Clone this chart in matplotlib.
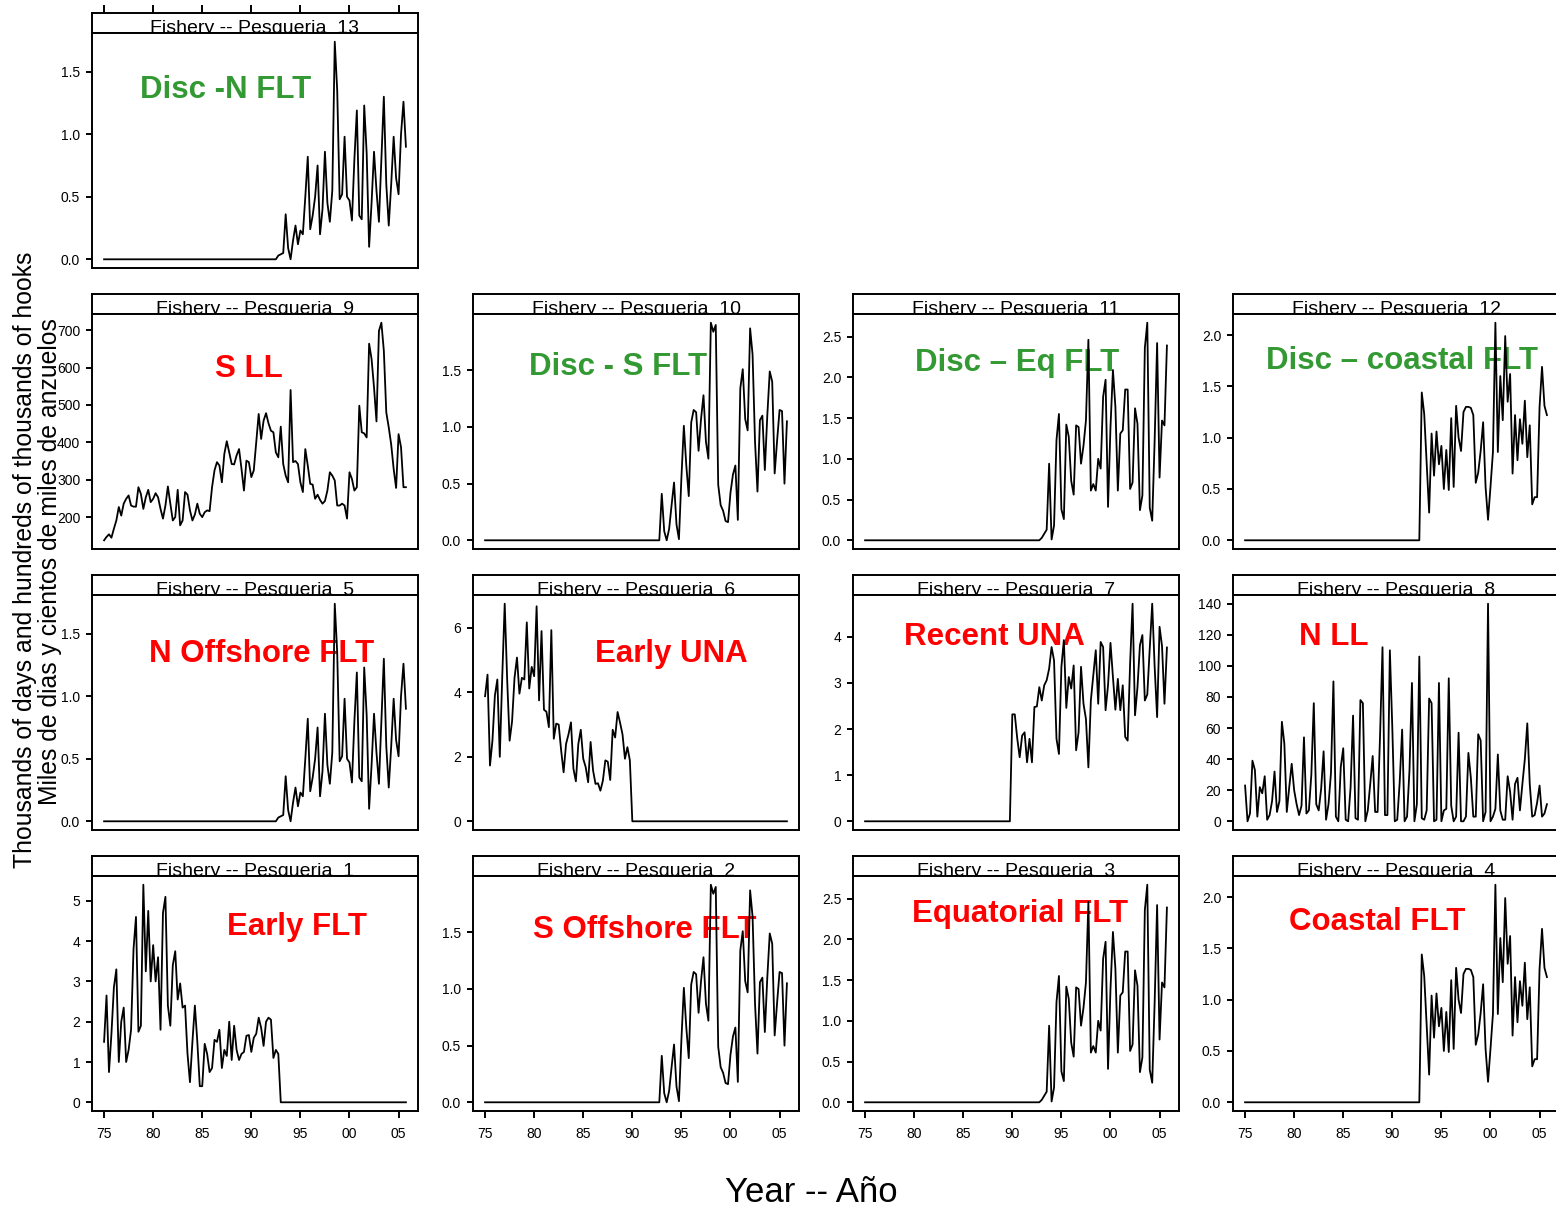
import numpy as np
import matplotlib.pyplot as plt

plt.rcParams['font.family'] = ['Liberation Sans', 'DejaVu Sans']

# quarterly steps, 1975 Q1 .. 2005 Q4
years = 1975 + np.arange(124) / 4.0
year_ticks = [1975, 1980, 1985, 1990, 1995, 2000, 2005]
year_labels = ['75', '80', '85', '90', '95', '00', '05']

early_flt = [
    1.50, 2.65, 0.75, 1.70, 2.85, 3.30, 1.00, 2.00,
    2.35, 1.00, 1.30, 1.80, 3.80, 4.60, 1.75, 1.90,
    5.40, 3.25, 4.75, 3.00, 3.90, 3.00, 3.60, 1.80,
    4.70, 5.10, 2.40, 1.90, 3.40, 3.75, 2.55, 2.95,
    2.35, 2.40, 1.20, 0.50, 1.50, 2.40, 1.50, 0.40,
    0.40, 1.45, 1.20, 0.75, 0.85, 1.55, 1.50, 1.80,
    0.85, 1.30, 1.15, 2.00, 1.05, 1.90, 1.30, 1.05,
    1.20, 1.25, 1.65, 1.67, 1.25, 1.60, 1.70, 2.10,
    1.85, 1.40, 2.00, 2.10, 2.05, 1.10, 1.30, 1.20,
    0, 0, 0, 0, 0, 0, 0, 0, 0, 0, 0, 0, 0, 0, 0, 0,
    0, 0, 0, 0, 0, 0, 0, 0, 0, 0, 0, 0, 0, 0, 0, 0,
    0, 0, 0, 0, 0, 0, 0, 0, 0, 0, 0, 0, 0, 0, 0, 0,
    0, 0, 0, 0,
]

s_offshore = [
    0, 0, 0, 0, 0, 0, 0, 0, 0, 0, 0, 0, 0, 0, 0, 0, 0, 0,
    0, 0, 0, 0, 0, 0, 0, 0, 0, 0, 0, 0, 0, 0, 0, 0, 0, 0,
    0, 0, 0, 0, 0, 0, 0, 0, 0, 0, 0, 0, 0, 0, 0, 0, 0, 0,
    0, 0, 0, 0, 0, 0, 0, 0, 0, 0, 0, 0, 0, 0, 0, 0, 0, 0,
    0.41, 0.08, 0.00, 0.10,
    0.31, 0.51, 0.14, 0.01,
    0.55, 1.01, 0.66, 0.39,
    1.04, 1.15, 1.13, 0.79,
    1.07, 1.28, 0.87, 0.72,
    1.92, 1.84, 1.90, 0.49,
    0.31, 0.26, 0.17, 0.16,
    0.42, 0.58, 0.66, 0.18,
    1.34, 1.51, 1.07, 0.97,
    1.87, 1.64, 0.87, 0.43,
    1.06, 1.10, 0.62, 1.10,
    1.49, 1.40, 0.59, 0.88,
    1.15, 1.14, 0.50, 1.05,
]

equatorial = [
    0, 0, 0, 0, 0, 0, 0, 0, 0, 0, 0, 0, 0, 0, 0, 0, 0, 0,
    0, 0, 0, 0, 0, 0, 0, 0, 0, 0, 0, 0, 0, 0, 0, 0, 0, 0,
    0, 0, 0, 0, 0, 0, 0, 0, 0, 0, 0, 0, 0, 0, 0, 0, 0, 0,
    0, 0, 0, 0, 0, 0, 0, 0, 0, 0, 0, 0, 0, 0, 0, 0, 0, 0,
    0.03, 0.08, 0.13, 0.94,
    0.01, 0.18, 1.23, 1.55,
    0.38, 0.26, 1.42, 1.27,
    0.73, 0.56, 1.41, 1.39,
    0.94, 1.16, 1.47, 2.46,
    0.61, 0.69, 0.61, 1.00,
    0.88, 1.76, 1.97, 0.41,
    1.39, 2.09, 1.64, 0.61,
    1.31, 1.35, 1.85, 1.85,
    0.63, 0.71, 1.62, 1.43,
    0.37, 0.55, 2.36, 2.67,
    0.40, 0.24, 1.23, 2.42,
    0.77, 1.47, 1.41, 2.39,
]

coastal = [
    0, 0, 0, 0, 0, 0, 0, 0, 0, 0, 0, 0, 0, 0, 0, 0, 0, 0,
    0, 0, 0, 0, 0, 0, 0, 0, 0, 0, 0, 0, 0, 0, 0, 0, 0, 0,
    0, 0, 0, 0, 0, 0, 0, 0, 0, 0, 0, 0, 0, 0, 0, 0, 0, 0,
    0, 0, 0, 0, 0, 0, 0, 0, 0, 0, 0, 0, 0, 0, 0, 0, 0, 0,
    1.44, 1.23, 0.75, 0.27,
    1.04, 0.63, 1.06, 0.74,
    0.92, 0.50, 0.88, 0.49,
    1.19, 0.52, 1.31, 1.00,
    0.87, 1.25, 1.30, 1.30,
    1.29, 1.22, 0.56, 0.66,
    0.87, 1.15, 0.52, 0.20,
    0.52, 0.86, 2.12, 0.86,
    1.60, 1.17, 1.99, 1.35,
    1.62, 0.65, 1.22, 0.78,
    1.18, 0.94, 1.36, 0.81,
    1.12, 0.35, 0.42, 0.42,
    1.30, 1.69, 1.31, 1.22,
]

n_offshore = [
    0, 0, 0, 0, 0, 0, 0, 0, 0, 0, 0, 0, 0, 0, 0, 0, 0, 0,
    0, 0, 0, 0, 0, 0, 0, 0, 0, 0, 0, 0, 0, 0, 0, 0, 0, 0,
    0, 0, 0, 0, 0, 0, 0, 0, 0, 0, 0, 0, 0, 0, 0, 0, 0, 0,
    0, 0, 0, 0, 0, 0, 0, 0, 0, 0, 0, 0, 0, 0, 0, 0, 0, 0.03,
    0.04, 0.05, 0.36, 0.09,
    0.00, 0.15, 0.27, 0.12,
    0.23, 0.20, 0.50, 0.82,
    0.24, 0.35, 0.50, 0.75,
    0.20, 0.40, 0.86, 0.45,
    0.30, 0.55, 1.74, 1.35,
    0.48, 0.52, 0.98, 0.50,
    0.47, 0.31, 0.80, 1.19,
    0.35, 0.32, 1.23, 0.85,
    0.10, 0.45, 0.86, 0.55,
    0.30, 0.80, 1.30, 0.60,
    0.27, 0.60, 0.98, 0.65,
    0.52, 1.00, 1.26, 0.90,
]

early_una = [
    3.88, 4.55, 1.73, 2.50, 3.90, 4.40, 2.00, 4.50,
    6.75, 4.40, 2.50, 3.10, 4.45, 5.08, 3.96, 4.45,
    4.40, 6.17, 4.12, 4.79, 4.50, 6.67, 3.75, 5.90,
    3.46, 3.40, 2.92, 5.93, 2.56, 3.03, 3.00, 2.20,
    1.52, 2.40, 2.70, 3.07, 1.63, 1.24, 2.40, 2.84,
    1.94, 1.68, 1.21, 2.46, 1.58, 1.16, 1.18, 0.95,
    1.26, 1.89, 1.85, 1.28, 2.84, 2.60, 3.39, 3.06,
    2.70, 1.94, 2.30, 1.89,
    0, 0, 0, 0, 0, 0, 0, 0, 0, 0, 0, 0, 0, 0, 0, 0,
    0, 0, 0, 0, 0, 0, 0, 0, 0, 0, 0, 0, 0, 0, 0, 0,
    0, 0, 0, 0, 0, 0, 0, 0, 0, 0, 0, 0, 0, 0, 0, 0,
    0, 0, 0, 0, 0, 0, 0, 0, 0, 0, 0, 0, 0, 0, 0, 0,
]

recent_una = [
    0, 0, 0, 0, 0, 0, 0, 0, 0, 0, 0, 0, 0, 0, 0, 0, 0, 0, 0, 0,
    0, 0, 0, 0, 0, 0, 0, 0, 0, 0, 0, 0, 0, 0, 0, 0, 0, 0, 0, 0,
    0, 0, 0, 0, 0, 0, 0, 0, 0, 0, 0, 0, 0, 0, 0, 0, 0, 0, 0, 0,
    2.32, 2.32, 1.80, 1.39,
    1.86, 1.93, 1.28, 1.79,
    1.28, 2.48, 2.49, 2.91,
    2.62, 2.95, 3.06, 3.31,
    3.78, 3.49, 1.79, 1.46,
    3.35, 3.93, 2.46, 3.13,
    2.88, 3.38, 1.54, 1.93,
    3.35, 2.55, 2.22, 1.17,
    2.62, 3.17, 3.71, 2.55,
    3.89, 3.78, 2.41, 2.95,
    3.87, 3.13, 2.42, 3.09,
    2.41, 2.95, 1.83, 1.75,
    3.42, 4.72, 2.30, 2.91,
    3.82, 4.04, 2.62, 2.75,
    3.75, 4.72, 3.35, 2.26,
    4.22, 3.80, 2.55, 3.77,
]

n_ll = [
    23, 0, 5, 39, 33, 3, 22, 18,
    29, 1, 4, 13, 32, 6, 13, 64,
    50, 6, 22, 37, 20, 11, 4, 10,
    54, 5, 7, 30, 76, 11, 7, 21,
    45, 1, 11, 31, 90, 3, 0, 35,
    47, 1, 0, 22, 68, 2, 1, 78,
    76, 0, 7, 24, 42, 6, 6, 55,
    112, 4, 4, 110, 60, 0, 1, 25,
    59, 0, 3, 33, 89, 0, 11, 106,
    2, 1, 7, 79, 76, 0, 1, 89,
    0, 7, 8, 92, 10, 0, 3, 57,
    0, 0, 3, 44, 28, 3, 3, 56,
    52, 0, 6, 140, 0, 3, 8, 43,
    7, 1, 1, 29, 19, 1, 24, 28,
    7, 24, 40, 63, 24, 3, 4, 12,
    23, 3, 5, 11,
]

s_ll = [
    138, 147, 154, 145, 169, 191, 227, 204,
    236, 249, 258, 231, 228, 228, 280, 262,
    222, 253, 273, 240, 249, 264, 253, 222,
    196, 231, 282, 236, 191, 200, 273, 178,
    191, 267, 260, 218, 191, 207, 236, 209,
    200, 213, 218, 216, 280, 325, 347, 338,
    293, 369, 403, 373, 342, 341, 365, 382,
    329, 271, 351, 347, 307, 325, 400, 476,
    409, 458, 478, 451, 431, 427, 373, 360,
    442, 342, 311, 293, 540, 347, 350, 342,
    293, 267, 382, 338, 289, 287, 249, 260,
    246, 236, 243, 271, 320, 311, 298, 231,
    231, 236, 231, 196, 320, 302, 271, 280,
    498, 427, 424, 413, 664, 623, 547, 456,
    698, 720, 645, 480, 440, 394, 329, 278,
    422, 387, 280, 280,
]

GREEN = '#339933'
RED = '#ff0000'

# row, col, fishery number, series, name, colour, name position, y ticks, tick format
panels = [
    (0, 0, 13, n_offshore, 'Disc -N FLT', GREEN, (0.411, 0.757), [0, 0.5, 1.0, 1.5], '{:.1f}'),
    (1, 0, 9, s_ll, 'S LL', RED, (0.482, 0.766), [200, 300, 400, 500, 600, 700], '{:.0f}'),
    (1, 1, 10, s_offshore, 'Disc - S FLT', GREEN, (0.445, 0.774), [0, 0.5, 1.0, 1.5], '{:.1f}'),
    (1, 2, 11, equatorial, 'Disc \u2013 Eq FLT', GREEN, (0.503, 0.791), [0, 0.5, 1.0, 1.5, 2.0, 2.5], '{:.1f}'),
    (1, 3, 12, coastal, 'Disc \u2013 coastal FLT', GREEN, (0.518, 0.800), [0, 0.5, 1.0, 1.5, 2.0], '{:.1f}'),
    (2, 0, 5, n_offshore, 'N Offshore FLT', RED, (0.520, 0.749), [0, 0.5, 1.0, 1.5], '{:.1f}'),
    (2, 1, 6, early_una, 'Early UNA', RED, (0.610, 0.749), [0, 2, 4, 6], '{:.0f}'),
    (2, 2, 7, recent_una, 'Recent UNA', RED, (0.433, 0.821), [0, 1, 2, 3, 4], '{:.0f}'),
    (2, 3, 8, n_ll, 'N LL', RED, (0.310, 0.821), [0, 20, 40, 60, 80, 100, 120, 140], '{:.0f}'),
    (3, 0, 1, early_flt, 'Early FLT', RED, (0.629, 0.783), [0, 1, 2, 3, 4, 5], '{:.0f}'),
    (3, 1, 2, s_offshore, 'S Offshore FLT', RED, (0.528, 0.770), [0, 0.5, 1.0, 1.5], '{:.1f}'),
    (3, 2, 3, equatorial, 'Equatorial FLT', RED, (0.512, 0.838), [0, 0.5, 1.0, 1.5, 2.0, 2.5], '{:.1f}'),
    (3, 3, 4, coastal, 'Coastal FLT', RED, (0.442, 0.804), [0, 0.5, 1.0, 1.5, 2.0], '{:.1f}'),
]

W, H = 1556, 1209
col_left = [92, 473, 853, 1233]
row_top = [13, 294, 575, 856]
panel_w, panel_h, strip_h = 326, 235, 20
border = 1.4


def box(x0, y0, w, h):
    # pixel box (top-left origin) -> figure fraction rect
    return [x0 / W, 1 - (y0 + h) / H, w / W, h / H]


fig = plt.figure(figsize=(W / 100, H / 100), dpi=100)

xlim = (years[0] - 0.04 * (years[-1] - years[0]), years[-1] + 0.04 * (years[-1] - years[0]))

for row, col, num, series, name, color, pos, yt, fmt in panels:
    x0, top = col_left[col], row_top[row]

    sax = fig.add_axes(box(x0, top, panel_w, strip_h))
    sax.set_xlim(xlim)
    sax.set_ylim(0, 1)
    sax.set_yticks([])
    for sp in sax.spines.values():
        sp.set_linewidth(border)
    sax.text(0.5, 0.0, 'Fishery -- Pesqueria  %d' % num, transform=sax.transAxes,
             ha='center', va='baseline', fontsize=14, clip_on=True)
    if row == 0:
        sax.set_xticks(year_ticks)
        sax.tick_params(axis='x', top=True, bottom=False, labeltop=False, labelbottom=False,
                        direction='out', length=5.5, width=border)
    else:
        sax.set_xticks([])

    ax = fig.add_axes(box(x0, top + strip_h, panel_w, panel_h))
    ax.plot(years, series, color='black', lw=1.3, zorder=2)
    lo, hi = min(series), max(series)
    ax.set_xlim(xlim)
    ax.set_ylim(lo - 0.04 * (hi - lo), hi + 0.04 * (hi - lo))
    for sp in ax.spines.values():
        sp.set_linewidth(border)
    ax.set_yticks(yt)
    ax.set_yticklabels([fmt.format(v) for v in yt])
    ax.tick_params(axis='y', direction='out', length=4.5, width=border, pad=4, labelsize=10)
    ax.set_xticks(year_ticks)
    if row == 3:
        ax.set_xticklabels(year_labels)
        ax.tick_params(axis='x', direction='out', length=4.8, width=border, pad=7, labelsize=10)
    else:
        ax.tick_params(axis='x', bottom=False, labelbottom=False)
    ax.text(pos[0], pos[1], name, transform=ax.transAxes, ha='center', va='center',
            fontsize=22.5, fontweight='bold', color=color, zorder=1)

fig.text(25 / W, 1 - 560 / H, 'Thousands of days and hundreds of thousands of hooks',
         rotation=90, ha='center', va='center', fontsize=17.8)
fig.text(50 / W, 1 - 561.5 / H, 'Miles de dias y cientos de miles de anzuelos',
         rotation=90, ha='center', va='center', fontsize=17.8)
fig.text(811 / W, 1 - 1193 / H, 'Year -- A\u00f1o', ha='center', va='center', fontsize=25)

fig.savefig('out.png', dpi=100, facecolor='white')
